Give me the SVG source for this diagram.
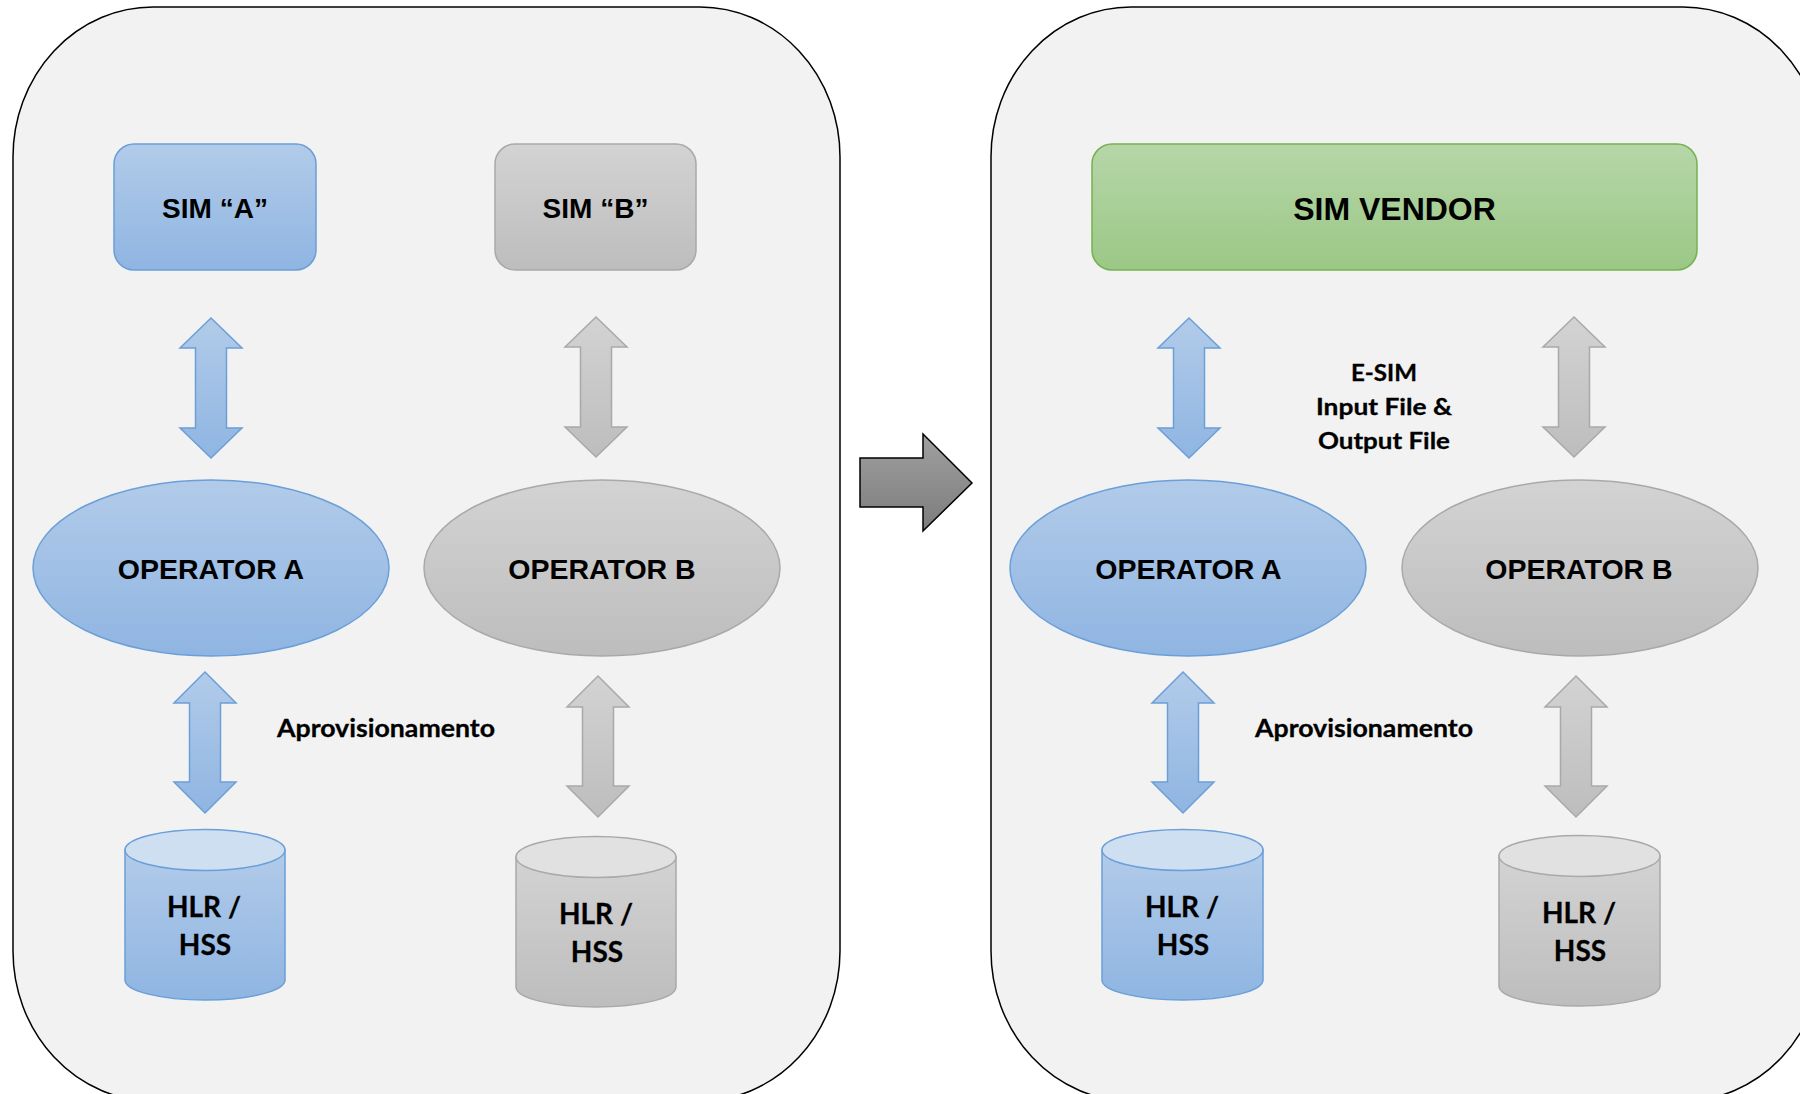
<svg xmlns="http://www.w3.org/2000/svg" width="1800" height="1094" viewBox="0 0 1800 1094">
<defs>
<linearGradient id="gBlue" x1="0" y1="0" x2="0" y2="1"><stop offset="0" stop-color="#b2cbe9"/><stop offset="1" stop-color="#8fb5e2"/></linearGradient>
<linearGradient id="gGray" x1="0" y1="0" x2="0" y2="1"><stop offset="0" stop-color="#d3d3d3"/><stop offset="1" stop-color="#bdbdbd"/></linearGradient>
<linearGradient id="gGreen" x1="0" y1="0" x2="0" y2="1"><stop offset="0" stop-color="#b6d6a8"/><stop offset="1" stop-color="#9bc886"/></linearGradient>
<linearGradient id="gDark" x1="0" y1="0" x2="0" y2="1"><stop offset="0" stop-color="#a0a0a0"/><stop offset="1" stop-color="#7c7c7c"/></linearGradient>
<path id="arrTop" d="M0,0 L31,30 L15.5,30 L15.5,110 L31,110 L0,140 L-31,110 L-15.5,110 L-15.5,30 L-31,30 Z"/>
<path id="arrBot" d="M0,0 L31,31 L15.5,31 L15.5,110 L31,110 L0,141 L-31,110 L-15.5,110 L-15.5,31 L-31,31 Z"/>
</defs>
<style>
.panel{fill:#f2f2f2;stroke:#000;stroke-width:1.5}
.blue{fill:url(#gBlue);stroke:#6b9fd8;stroke-width:1.5}
.gray{fill:url(#gGray);stroke:#a9a9a9;stroke-width:1.5}
.green{fill:url(#gGreen);stroke:#76b153;stroke-width:1.5}
.blueTop{fill:#cfdff2;stroke:#6b9fd8;stroke-width:1.5}
.grayTop{fill:#e1e1e1;stroke:#a9a9a9;stroke-width:1.5}
.lbl{font-family:"Liberation Sans",Arial,sans-serif;font-weight:bold;fill:#000;text-anchor:middle}
.cal{font-family:Lato,"Open Sans",sans-serif;font-weight:bold;fill:#000;text-anchor:middle;stroke:#000;stroke-width:0.3}
</style>
<g id="panel-left"><rect class="panel" x="13" y="7" width="827" height="1094" rx="140" ry="150"/></g>
<g id="panel-right"><rect class="panel" x="991" y="7" width="832" height="1094" rx="140" ry="150"/></g>
<g id="transition-arrow"><path d="M860,458 L923,458 L923,434 L972,483 L923,531 L923,507 L860,507 Z" fill="url(#gDark)" stroke="#000" stroke-width="1.5"/></g>

<g id="connectors">
<use href="#arrTop" class="blue" transform="translate(211,318)"/>
<use href="#arrTop" class="gray" transform="translate(596,317)"/>
<use href="#arrBot" class="blue" transform="translate(205,672)"/>
<use href="#arrBot" class="gray" transform="translate(598,676)"/>
<use href="#arrTop" class="blue" transform="translate(1189,318)"/>
<use href="#arrTop" class="gray" transform="translate(1574,317)"/>
<use href="#arrBot" class="blue" transform="translate(1183,672)"/>
<use href="#arrBot" class="gray" transform="translate(1576,676)"/>
</g>

<g id="sim-a"><rect class="blue" x="114" y="144" width="202" height="126" rx="20"/><text class="lbl" x="215" y="218" font-size="28">SIM “A”</text></g>
<g id="sim-b"><rect class="gray" x="495" y="144" width="201" height="126" rx="20"/><text class="lbl" x="595.5" y="218" font-size="28">SIM “B”</text></g>
<g id="operator-a-left"><ellipse class="blue" cx="211" cy="568" rx="178" ry="88"/><text class="lbl" x="211" y="579" font-size="28.5">OPERATOR A</text></g>
<g id="operator-b-left"><ellipse class="gray" cx="602" cy="568" rx="178" ry="88"/><text class="lbl" x="602" y="579" font-size="28.5">OPERATOR B</text></g>
<g id="label-aprov-left"><text class="cal" x="386" y="737" font-size="24" textLength="218" lengthAdjust="spacingAndGlyphs">Aprovisionamento</text></g>
<g id="hlr-a-left">
<path class="blue" d="M125,850 L125,980 A80,20 0 0 0 285,980 L285,850 Z"/>
<ellipse class="blueTop" cx="205" cy="850" rx="80" ry="20.5"/>
<text class="cal" x="204" y="917" font-size="28">HLR /</text><text class="cal" x="205" y="955" font-size="28">HSS</text>
</g>
<g id="hlr-b-left">
<path class="gray" d="M516,857 L516,987 A80,20 0 0 0 676,987 L676,857 Z"/>
<ellipse class="grayTop" cx="596" cy="857" rx="80" ry="20.5"/>
<text class="cal" x="596" y="924" font-size="28">HLR /</text><text class="cal" x="597" y="962" font-size="28">HSS</text>
</g>

<g id="sim-vendor"><rect class="green" x="1092" y="144" width="605" height="126" rx="20"/><text class="lbl" x="1394.5" y="220" font-size="32">SIM VENDOR</text></g>
<g id="label-esim">
<text class="cal" x="1384" y="381" font-size="22" textLength="66" lengthAdjust="spacingAndGlyphs">E-SIM</text>
<text class="cal" x="1384" y="415" font-size="22" textLength="136" lengthAdjust="spacingAndGlyphs">Input File &amp;</text>
<text class="cal" x="1384" y="449" font-size="22" textLength="132" lengthAdjust="spacingAndGlyphs">Output File</text>
</g>
<g id="operator-a-right"><ellipse class="blue" cx="1188" cy="568" rx="178" ry="88"/><text class="lbl" x="1188.5" y="579" font-size="28.5">OPERATOR A</text></g>
<g id="operator-b-right"><ellipse class="gray" cx="1580" cy="568" rx="178" ry="88"/><text class="lbl" x="1579" y="579" font-size="28.5">OPERATOR B</text></g>
<g id="label-aprov-right"><text class="cal" x="1364" y="737" font-size="24" textLength="218" lengthAdjust="spacingAndGlyphs">Aprovisionamento</text></g>
<g id="hlr-a-right">
<path class="blue" d="M1102,850 L1102,980 A80.5,20 0 0 0 1263,980 L1263,850 Z"/>
<ellipse class="blueTop" cx="1182.5" cy="850" rx="80.5" ry="20.5"/>
<text class="cal" x="1182" y="917" font-size="28">HLR /</text><text class="cal" x="1183" y="955" font-size="28">HSS</text>
</g>
<g id="hlr-b-right">
<path class="gray" d="M1499,856 L1499,986 A80.5,20 0 0 0 1660,986 L1660,856 Z"/>
<ellipse class="grayTop" cx="1579.5" cy="856" rx="80.5" ry="20.5"/>
<text class="cal" x="1579" y="923" font-size="28">HLR /</text><text class="cal" x="1580" y="961" font-size="28">HSS</text>
</g>
</svg>
